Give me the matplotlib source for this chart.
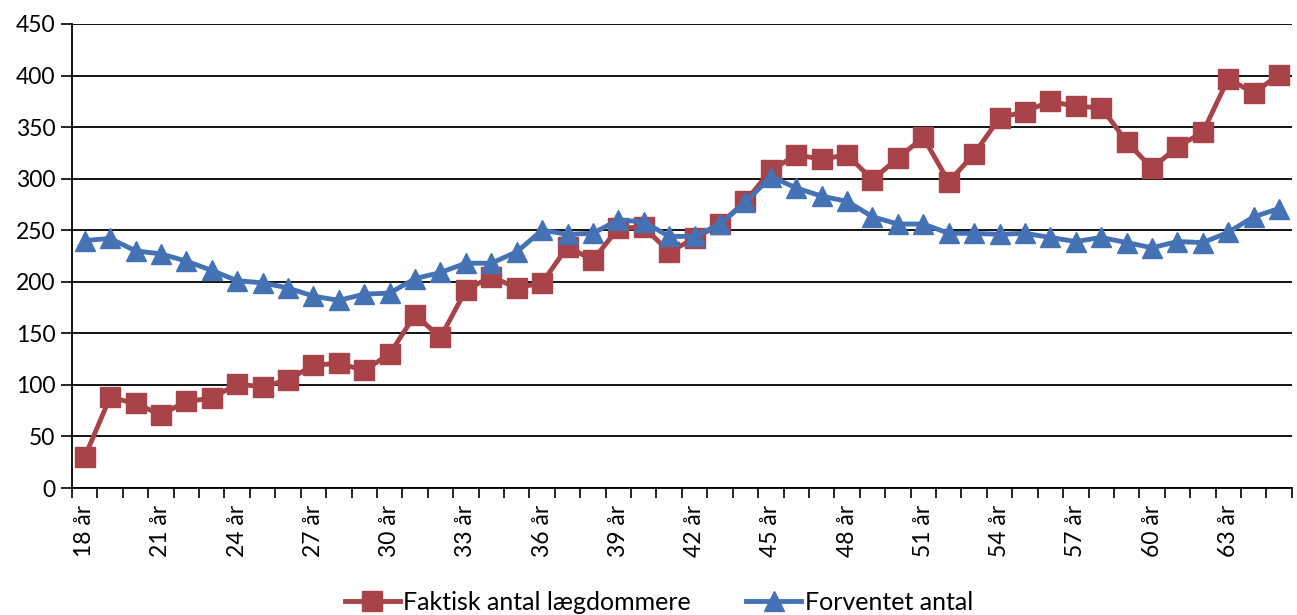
import matplotlib
matplotlib.use("Agg")
import matplotlib.pyplot as plt
from matplotlib.ticker import FixedLocator

plt.rcParams['font.family'] = ['Lato', 'DejaVu Sans']

ages = list(range(18, 66))
categories = [f"{a} år" for a in ages]

faktisk = [30, 88, 82, 71, 84, 87, 101, 98, 105, 119, 121, 114, 130, 168, 146, 192,
           205, 194, 199, 234, 221, 252, 253, 229, 242, 256, 278, 308, 323, 319, 323,
           299, 320, 340, 297, 324, 359, 365, 375, 370, 369, 336, 310, 331, 345, 397,
           383, 401]
forventet = [240, 242, 230, 227, 220, 211, 201, 199, 194, 186, 182, 188, 189, 203, 209,
             218, 218, 229, 250, 246, 247, 260, 258, 244, 244, 256, 277, 302, 291, 283,
             278, 263, 256, 256, 247, 247, 246, 247, 243, 239, 243, 238, 233, 239, 238,
             248, 263, 271]

red = '#A8434A'
blue = '#4472B4'

fig = plt.figure(figsize=(12.97, 6.15), dpi=100)
ax = fig.add_axes([0.0555, 0.2065, 0.9405, 0.7545])

x = list(range(len(categories)))
ax.plot(x, faktisk, color=red, lw=3.5, marker='s', ms=15, mec=red, mfc=red,
        label='Faktisk antal lægdommere', zorder=3)
ax.plot(x, forventet, color=blue, lw=3.5, marker='^', ms=15, mec=blue, mfc=blue,
        label='Forventet antal', zorder=4)

ax.set_xlim(-0.5, len(categories) - 0.5)
ax.set_ylim(0, 450)
ax.set_yticks(range(0, 451, 50))
ax.yaxis.grid(True, color='black', lw=1.3)
ax.set_axisbelow(True)

major = list(range(0, len(categories), 3))
ax.set_xticks(major)
ax.set_xticklabels([categories[i] for i in major], rotation=90, fontsize=16.5)
ax.xaxis.set_minor_locator(FixedLocator([i - 0.5 for i in range(len(categories) + 1)]))
ax.tick_params(axis='x', which='major', length=0, pad=12)
ax.tick_params(axis='x', which='minor', length=7, width=1.2, direction='out', color='black')
ax.tick_params(axis='y', length=8, width=1.2, labelsize=16.5, pad=4)

for s in ['top', 'right']:
    ax.spines[s].set_visible(False)
ax.spines['left'].set_linewidth(1.3)
ax.spines['bottom'].set_linewidth(1.3)

fig.legend(loc='lower center', bbox_to_anchor=(0.508, -0.035), ncol=2, frameon=False,
           fontsize=18, handlelength=2.2, columnspacing=2.2, handletextpad=0.15)

fig.savefig('out.png', dpi=100)
